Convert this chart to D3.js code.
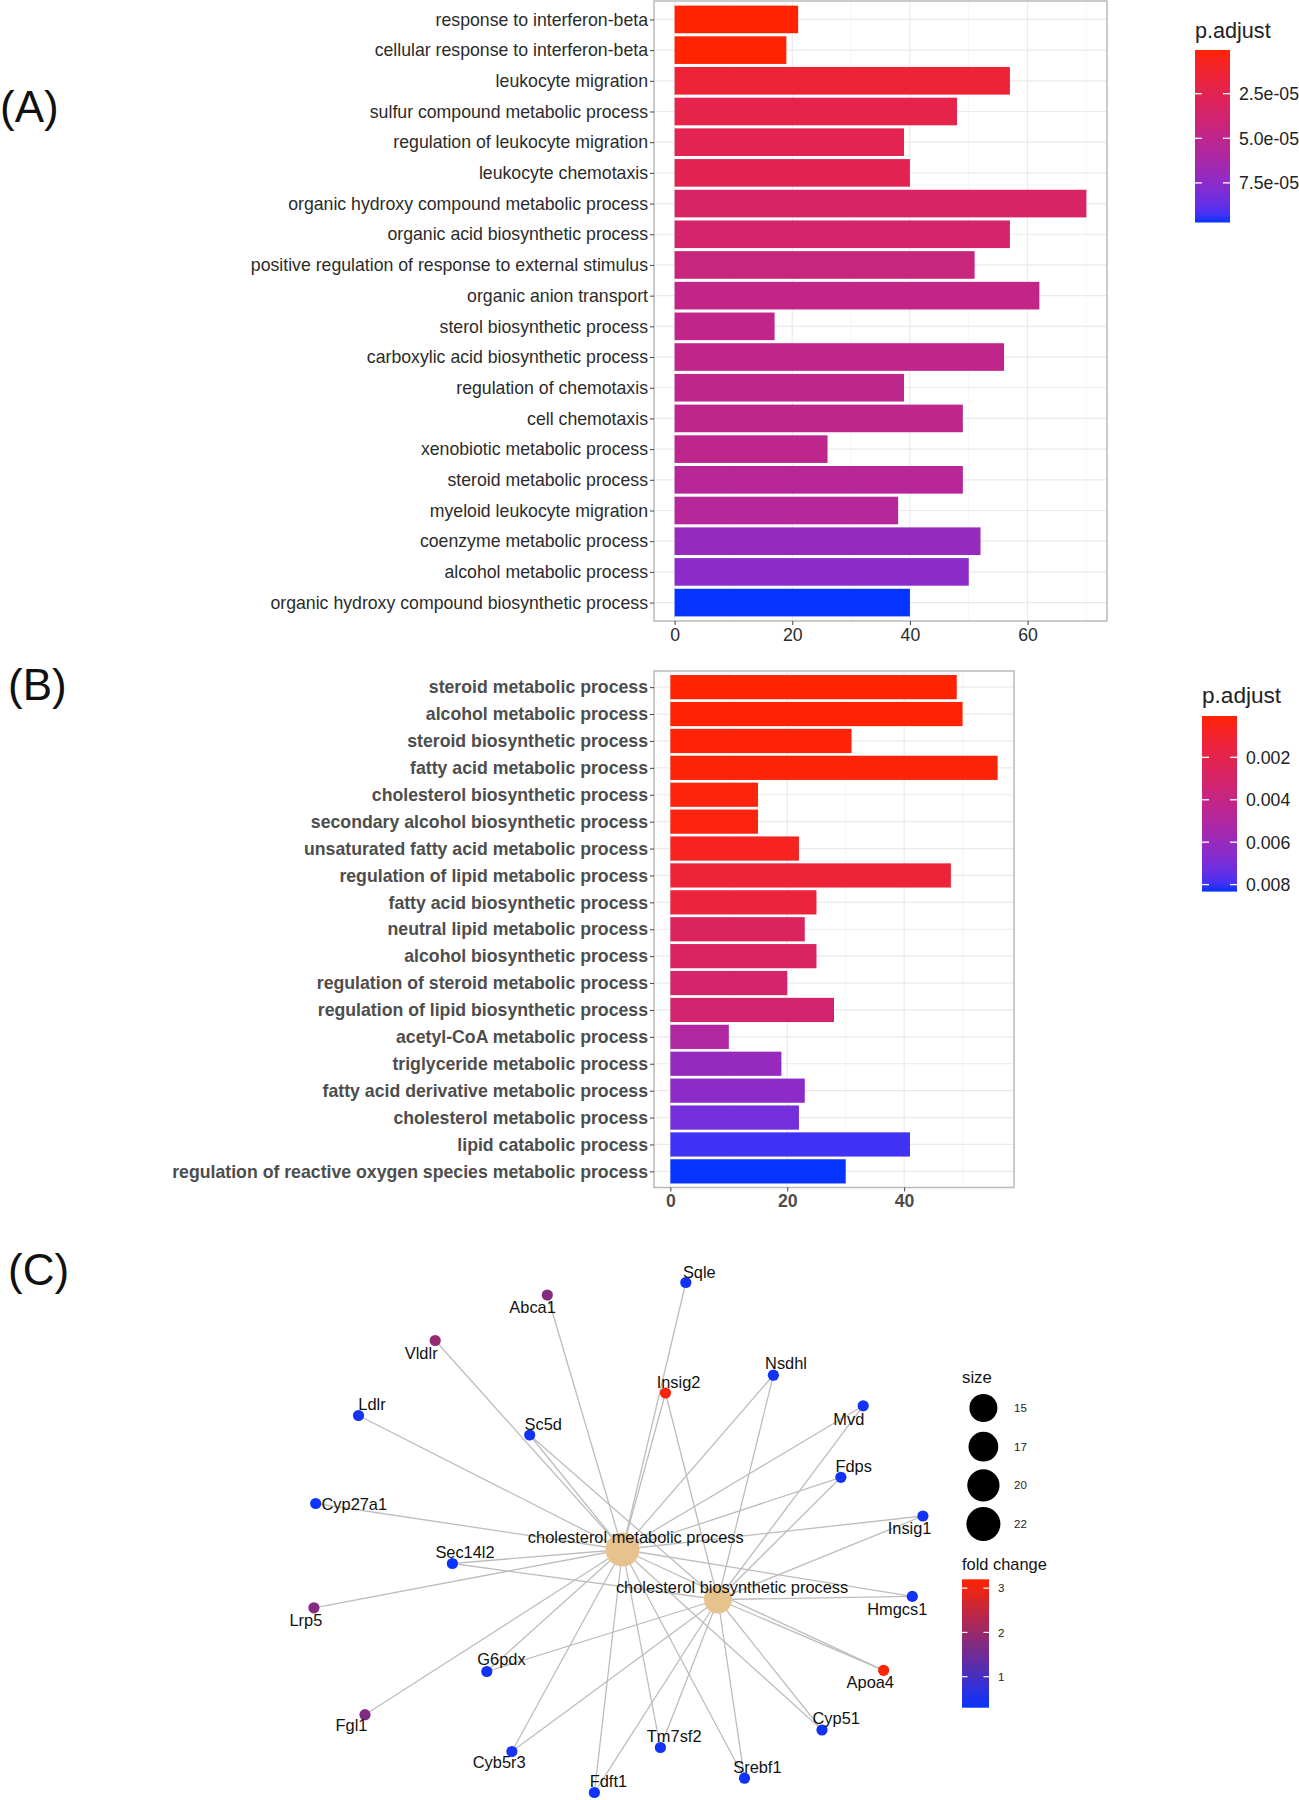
<!DOCTYPE html>
<html><head><meta charset="utf-8">
<script src="https://cdn.jsdelivr.net/npm/d3@7"></script>
<style>
body{margin:0;background:#fff}
text{font-family:"Liberation Sans",Arial,Helvetica,sans-serif}
</style>
</head><body>
<svg id="chart" width="1299" height="1800"></svg>
<script>
// ---------------- Panel A data ----------------
const catsA = [
  "response to interferon-beta","cellular response to interferon-beta","leukocyte migration",
  "sulfur compound metabolic process","regulation of leukocyte migration","leukocyte chemotaxis",
  "organic hydroxy compound metabolic process","organic acid biosynthetic process",
  "positive regulation of response to external stimulus","organic anion transport",
  "sterol biosynthetic process","carboxylic acid biosynthetic process","regulation of chemotaxis",
  "cell chemotaxis","xenobiotic metabolic process","steroid metabolic process",
  "myeloid leukocyte migration","coenzyme metabolic process","alcohol metabolic process",
  "organic hydroxy compound biosynthetic process"];
const countA = [21,19,57,48,39,40,70,57,51,62,17,56,39,49,26,49,38,52,50,40];
const padjA = [0.05e-5,0.07e-5,1.5e-5,2.27e-5,2.47e-5,2.56e-5,3.34e-5,3.63e-5,4.4e-5,4.79e-5,
  4.89e-5,4.89e-5,4.98e-5,4.98e-5,5.08e-5,5.47e-5,5.56e-5,7.11e-5,7.5e-5,9.72e-5];
const xTicksA = [0,20,40,60];
const legendTicksA = [2.5e-5,5.0e-5,7.5e-5];
const legendLabelsA = ["2.5e-05","5.0e-05","7.5e-05"];

// ---------------- Panel B data ----------------
const catsB = [
  "steroid metabolic process","alcohol metabolic process","steroid biosynthetic process",
  "fatty acid metabolic process","cholesterol biosynthetic process",
  "secondary alcohol biosynthetic process","unsaturated fatty acid metabolic process",
  "regulation of lipid metabolic process","fatty acid biosynthetic process",
  "neutral lipid metabolic process","alcohol biosynthetic process",
  "regulation of steroid metabolic process","regulation of lipid biosynthetic process",
  "acetyl-CoA metabolic process","triglyceride metabolic process",
  "fatty acid derivative metabolic process","cholesterol metabolic process",
  "lipid catabolic process","regulation of reactive oxygen species metabolic process"];
const countB = [49,50,31,56,15,15,22,48,25,23,25,20,28,10,19,23,22,41,30];
const padjB = [0.00005,0.00009,0.00013,0.00017,0.00022,0.00026,0.00063,0.00129,0.00146,
  0.00262,0.00270,0.00311,0.00320,0.00502,0.00609,0.00643,0.00709,0.00800,0.00833];
const xTicksB = [0,20,40];
const legendTicksB = [0.002,0.004,0.006,0.008];
const legendLabelsB = ["0.002","0.004","0.006","0.008"];

// ---------------- Panel C data (network) ----------------
const hubNames = ["cholesterol metabolic process","cholesterol biosynthetic process"];
const hubX = [3.225, 4.18];
const hubY = [2.795, 3.295];
const hubSize = [22, 15];
const geneNames = ["Sqle","Abca1","Vldlr","Insig2","Nsdhl","Ldlr","Sc5d","Mvd","Fdps","Cyp27a1",
  "Insig1","Sec14l2","Lrp5","Hmgcs1","G6pdx","Apoa4","Fgl1","Cyp51","Cyb5r3","Tm7sf2","Srebf1","Fdft1"];
const geneX = [3.858,2.473,1.352,3.655,4.734,0.585,2.297,5.632,5.409,0.157,
  6.229,1.524,0.139,6.123,1.868,5.836,0.65,5.22,2.119,3.604,4.445,2.944];
const geneY = [0.125,0.25,0.705,1.23,1.052,1.455,1.65,1.358,2.073,2.335,
  2.46,2.935,3.378,3.264,4.015,4.003,4.447,4.6,4.815,4.775,5.082,5.225];
const geneFC = [0.4,1.75,1.95,3.1,0.4,0.45,0.4,0.38,0.4,0.35,
  0.42,0.3,1.75,0.4,0.4,3.2,1.7,0.4,0.45,0.4,0.38,0.36];
// genes linked to "cholesterol metabolic process" (all) and to "cholesterol biosynthetic process"
const genesMetabolic = geneNames.slice();
const genesBiosynthetic = ["Sc5d","Insig2","Nsdhl","Mvd","Fdps","Insig1","Hmgcs1","Apoa4",
  "Cyp51","Srebf1","Tm7sf2","Fdft1","Cyb5r3","G6pdx","Sec14l2"];
const sizeBreaks = [15,17,20,22];
const fcBreaks = [1,2,3];

// ---------------- drawing ----------------
const svg = d3.select("#chart");
const LOW = "#FF2300", HIGH = "#0533FF";
const FONT = 17.7;

function barPanel(o){
  const g = svg.append("g");
  const mx = d3.max(o.counts);
  const x = d3.scaleLinear().domain([-0.05*mx, 1.05*mx]).range([o.left, o.right]);
  const y = d3.scalePoint().domain(o.cats).range([o.top, o.bottom]).padding(0.6);
  const bh = y.step()*0.9;
  const col = d3.scaleLinear().domain(d3.extent(o.padj)).range([LOW, HIGH]).interpolate(d3.interpolateLab);
  // grid
  const minor = o.ticks.map(t=>t+10).filter(t=>t<=x.domain()[1]);
  g.selectAll(".mn").data(minor).join("line")
    .attr("x1",d=>x(d)).attr("x2",d=>x(d)).attr("y1",o.top).attr("y2",o.bottom)
    .attr("stroke","#F3F3F3").attr("stroke-width",0.8);
  g.selectAll(".mj").data(o.ticks).join("line")
    .attr("x1",d=>x(d)).attr("x2",d=>x(d)).attr("y1",o.top).attr("y2",o.bottom)
    .attr("stroke","#EAEAEA").attr("stroke-width",1.2);
  g.selectAll(".hy").data(o.cats).join("line")
    .attr("x1",o.left).attr("x2",o.right).attr("y1",d=>y(d)).attr("y2",d=>y(d))
    .attr("stroke","#EAEAEA").attr("stroke-width",1.2);
  // bars
  g.selectAll(".bar").data(o.cats).join("rect")
    .attr("x",x(0)).attr("y",d=>y(d)-bh/2)
    .attr("width",(d,i)=>x(o.counts[i])-x(0)).attr("height",bh)
    .attr("fill",(d,i)=>col(o.padj[i]));
  // border
  g.append("rect").attr("x",o.left).attr("y",o.top).attr("width",o.right-o.left).attr("height",o.bottom-o.top)
    .attr("fill","none").attr("stroke","#BDBDBD").attr("stroke-width",1.6);
  // y axis
  const ya = g.append("g").attr("transform",`translate(${o.left},0)`)
    .call(d3.axisLeft(y).tickSize(4).tickPadding(2));
  ya.select(".domain").remove();
  ya.selectAll(".tick line").attr("stroke","#444");
  ya.selectAll(".tick text").attr("font-size",FONT).attr("fill",o.bold?"#4D4D4D":"#2b2b2b")
    .attr("font-weight",o.bold?"bold":"normal").attr("font-family",'"Liberation Sans",Arial,sans-serif');
  // x axis
  const xa = g.append("g").attr("transform",`translate(0,${o.bottom})`)
    .call(d3.axisBottom(x).tickValues(o.ticks).tickSize(4).tickPadding(3).tickFormat(d3.format("d")));
  xa.select(".domain").remove();
  xa.selectAll(".tick line").attr("stroke","#444");
  xa.selectAll(".tick text").attr("font-size",FONT).attr("fill",o.bold?"#4D4D4D":"#2b2b2b")
    .attr("font-weight",o.bold?"bold":"normal").attr("font-family",'"Liberation Sans",Arial,sans-serif');
  // legend
  const L = o.legend;
  const ly = d3.scaleLinear().domain(d3.extent(o.padj)).range([L.top, L.bottom]);
  const gid = "grad"+o.id;
  const grad = svg.append("defs").append("linearGradient").attr("id",gid)
    .attr("x1",0).attr("y1",0).attr("x2",0).attr("y2",1);
  d3.range(0,1.0001,0.05).forEach(t=>{
    grad.append("stop").attr("offset",t).attr("stop-color",col(ly.invert(L.top+t*(L.bottom-L.top))));
  });
  g.append("text").attr("x",L.x).attr("y",L.titleY).attr("font-size",L.titleSize).attr("fill","#222").text("p.adjust");
  g.append("rect").attr("x",L.x).attr("y",L.top).attr("width",L.w).attr("height",L.bottom-L.top)
    .attr("fill",`url(#${gid})`);
  L.ticks.forEach((t,i)=>{
    g.append("line").attr("x1",L.x).attr("x2",L.x+7).attr("y1",ly(t)).attr("y2",ly(t)).attr("stroke","#fff").attr("stroke-width",1.3);
    g.append("line").attr("x1",L.x+L.w-7).attr("x2",L.x+L.w).attr("y1",ly(t)).attr("y2",ly(t)).attr("stroke","#fff").attr("stroke-width",1.3);
    g.append("text").attr("x",L.x+L.w+9).attr("y",ly(t)).attr("dy","0.36em")
      .attr("font-size",FONT).attr("fill","#222").text(L.labels[i]);
  });
}

barPanel({id:"A",cats:catsA,counts:countA,padj:padjA,ticks:xTicksA,left:654,right:1107,top:1,bottom:621,bold:false,
  legend:{x:1195,w:35,top:50,bottom:222.5,titleY:38,titleSize:21.6,ticks:legendTicksA,labels:legendLabelsA}});
barPanel({id:"B",cats:catsB,counts:countB,padj:padjB,ticks:xTicksB,left:654,right:1014,top:671,bottom:1187.5,bold:true,
  legend:{x:1202,w:35,top:716,bottom:891.6,titleY:703,titleSize:22.6,ticks:legendTicksB,labels:legendLabelsB}});

// panel letters
[["(A)",0,122],["(B)",8,700],["(C)",8,1285]].forEach(([t,x,y])=>{
  svg.append("text").attr("x",x).attr("y",y).attr("font-size",44).attr("fill","#111")
    .attr("font-family",'"Open Sans","Liberation Sans",sans-serif').text(t);
});

// ---------------- network ----------------
const nx = d3.scaleLinear().domain([0,1]).range([300,400]);
const ny = d3.scaleLinear().domain([0,1]).range([1270,1370]);
const fcCol = d3.scaleLinear().domain(d3.extent(geneFC)).range(["#0A33FF","#FF2300"]).interpolate(d3.interpolateRgb);
const rSize = d3.scaleLinear().domain([15,22]).range([14,17]);
const gNet = svg.append("g");
const geneIdx = Object.fromEntries(geneNames.map((n,i)=>[n,i]));
const edges = [];
genesMetabolic.forEach(n=>edges.push([0,geneIdx[n]]));
genesBiosynthetic.forEach(n=>edges.push([1,geneIdx[n]]));
gNet.selectAll(".edge").data(edges).join("line")
  .attr("x1",d=>nx(hubX[d[0]])).attr("y1",d=>ny(hubY[d[0]]))
  .attr("x2",d=>nx(geneX[d[1]])).attr("y2",d=>ny(geneY[d[1]]))
  .attr("stroke","#BDBDBD").attr("stroke-width",1.3);
gNet.selectAll(".hub").data(hubNames).join("circle")
  .attr("cx",(d,i)=>nx(hubX[i])).attr("cy",(d,i)=>ny(hubY[i])).attr("r",(d,i)=>rSize(hubSize[i]))
  .attr("fill","#E6C28C");
gNet.selectAll(".gene").data(geneNames).join("circle")
  .attr("cx",(d,i)=>nx(geneX[i])).attr("cy",(d,i)=>ny(geneY[i])).attr("r",5.6)
  .attr("fill",(d,i)=>fcCol(geneFC[i]));
// label placement (pixel offsets from the node)
const labelOffset = {
  Sqle:[13.5,-10.5],Abca1:[-14.7,12],Vldlr:[-14,12.5],Insig2:[13,-10.3],Nsdhl:[12.6,-12],
  Ldlr:[13.5,-11],Sc5d:[13.6,-11],Mvd:[-14.4,13.5],Fdps:[12.8,-10.8],Cyp27a1:[38.6,1],
  Insig1:[-13.3,12.5],Sec14l2:[12.6,-11],Lrp5:[-8,12.5],Hmgcs1:[-15,12.4],G6pdx:[14.7,-12.2],
  Apoa4:[-13.3,12.2],Fgl1:[-13.5,11],Cyp51:[14.2,-12.2],Cyb5r3:[-12.7,11],Tm7sf2:[13.8,-11.3],
  Srebf1:[12.9,-11],Fdft1:[14,-11.3]};
const hubOffset = [[13.3,-11.8],[14.1,-12.5]];
const NF = 16.4;
gNet.selectAll(".glab").data(geneNames).join("text")
  .attr("x",(d,i)=>nx(geneX[i])+labelOffset[d][0]).attr("y",(d,i)=>ny(geneY[i])+labelOffset[d][1])
  .attr("dy","0.35em").attr("text-anchor","middle").attr("font-size",NF).attr("fill","#111").text(d=>d);
gNet.selectAll(".hlab").data(hubNames).join("text")
  .attr("x",(d,i)=>nx(hubX[i])+hubOffset[i][0]).attr("y",(d,i)=>ny(hubY[i])+hubOffset[i][1])
  .attr("dy","0.35em").attr("text-anchor","middle").attr("font-size",NF).attr("fill","#111").text(d=>d);

// size legend
const sizeY = d3.scalePoint().domain(sizeBreaks).range([1408,1524]);
gNet.append("text").attr("x",962).attr("y",1383).attr("font-size",16.8).attr("fill","#111").text("size");
gNet.selectAll(".sl").data(sizeBreaks).join("circle")
  .attr("cx",983.4).attr("cy",d=>sizeY(d)).attr("r",d=>rSize(d)).attr("fill","#000");
gNet.selectAll(".slt").data(sizeBreaks).join("text")
  .attr("x",1014).attr("y",d=>sizeY(d)).attr("dy","0.36em").attr("font-size",11.5).attr("fill","#222").text(d=>d);

// fold change legend
const fcY = d3.scaleLinear().domain(d3.extent(geneFC)).range([1707.7,1579.3]);
const fgrad = svg.append("defs").append("linearGradient").attr("id","fcgrad")
  .attr("x1",0).attr("y1",0).attr("x2",0).attr("y2",1);
d3.range(0,1.0001,0.05).forEach(t=>{
  fgrad.append("stop").attr("offset",t).attr("stop-color",fcCol(fcY.invert(1579.3+t*(1707.7-1579.3))));
});
gNet.append("text").attr("x",962).attr("y",1570).attr("font-size",16.4).attr("fill","#111").text("fold change");
gNet.append("rect").attr("x",962).attr("y",1579.3).attr("width",27).attr("height",1707.7-1579.3).attr("fill","url(#fcgrad)");
fcBreaks.forEach(b=>{
  gNet.append("line").attr("x1",962).attr("x2",967.5).attr("y1",fcY(b)).attr("y2",fcY(b)).attr("stroke","#fff").attr("stroke-width",1.2);
  gNet.append("line").attr("x1",983.5).attr("x2",989).attr("y1",fcY(b)).attr("y2",fcY(b)).attr("stroke","#fff").attr("stroke-width",1.2);
  gNet.append("text").attr("x",998).attr("y",fcY(b)).attr("dy","0.36em").attr("font-size",11.5).attr("fill","#222").text(b);
});
</script>
</body></html>
